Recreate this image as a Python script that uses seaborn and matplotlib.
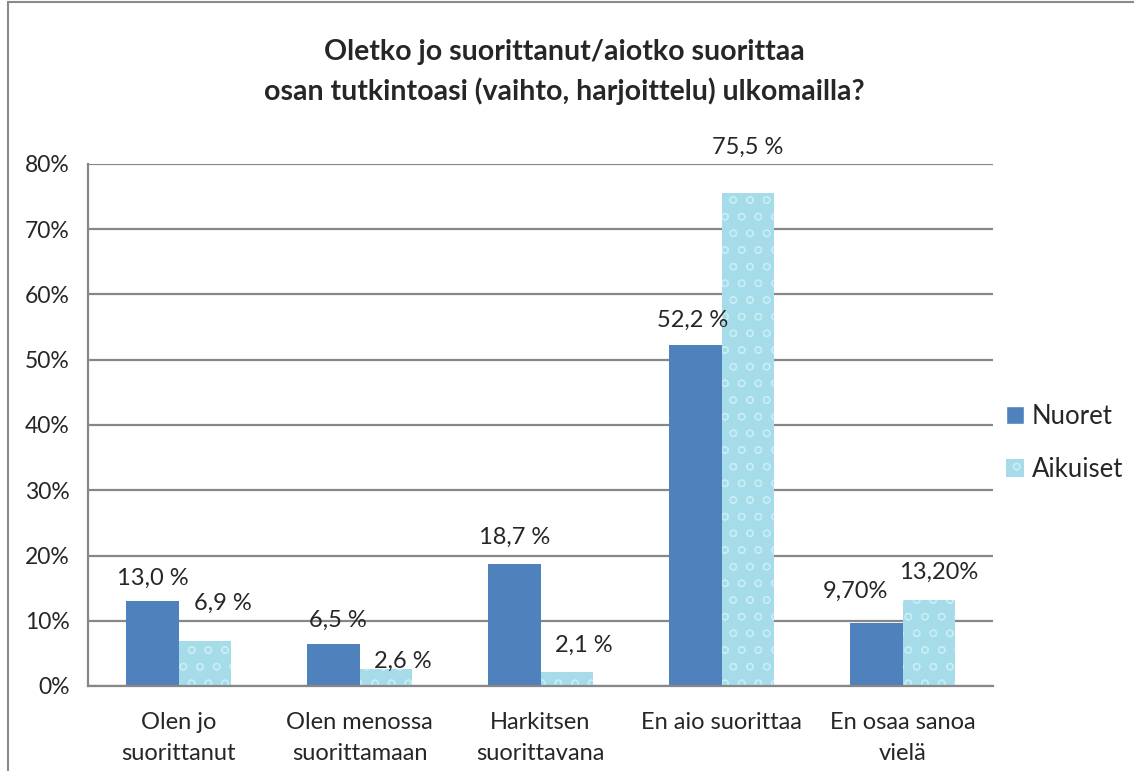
import matplotlib
matplotlib.use("Agg")
import matplotlib.pyplot as plt
import matplotlib.lines as mlines
import matplotlib.patches as mpatches
import numpy as np
import pandas as pd
import seaborn as sns

categories = ["Olen jo\nsuorittanut", "Olen menossa\nsuorittamaan", "Harkitsen\nsuorittavana",
              "En aio suorittaa", "En osaa sanoa\nvielä"]
nuoret = [13.0, 6.5, 18.7, 52.2, 9.7]
aikuiset = [6.9, 2.6, 2.1, 75.5, 13.2]
labels_nuoret = ["13,0 %", "6,5 %", "18,7 %", "52,2 %", "9,70%"]
labels_aikuiset = ["6,9 %", "2,6 %", "2,1 %", "75,5 %", "13,20%"]
series = ["Nuoret", "Aikuiset"]
yticks = [0, 10, 20, 30, 40, 50, 60, 70, 80]

# label nudges in pixels (manual placement, like in the original)
off_nuoret = [(0, 23), (4, 23), (0, 27), (-3, 25), (-21, 31)]
off_aikuiset = [(18, 38), (17, 8), (17, 27), (0, 46), (10, 28)]

df = pd.DataFrame({
    "kategoria": categories * 2,
    "ryhma": [series[0]] * len(categories) + [series[1]] * len(categories),
    "osuus": nuoret + aikuiset,
})

sns.set_style("white")
plt.rcParams["font.family"] = ["Lato", "DejaVu Sans"]
plt.rcParams["hatch.linewidth"] = 0.9

fig = plt.figure(figsize=(11.34, 7.71), dpi=100)
ax = fig.add_axes([88 / 1134, 1 - 686 / 771, (993 - 88) / 1134, (686 - 164) / 771])

sns.barplot(data=df, x="kategoria", y="osuus", hue="ryhma", order=categories,
            hue_order=series, palette=["#4F81BD", "#A6DCE9"], width=0.575,
            saturation=1, ax=ax, legend=False)

for bar in ax.containers[1]:
    bar.set_hatch("o")
    bar.set_edgecolor("#C6ECF4")
    bar.set_linewidth(0)
for bar in ax.containers[0]:
    bar.set_linewidth(0)

grid_c = "#878787"
ax.set_ylim(0, 80)
ax.set_xlim(-0.5, len(categories) - 0.5)
ax.set_yticks(yticks)
ax.set_yticklabels([f"{t}%" for t in yticks], fontsize=16.5)
ax.yaxis.grid(True, color=grid_c, linewidth=1.6)
ax.set_axisbelow(True)
ax.set_xticks(np.arange(len(categories)))
ax.set_xticklabels(categories, fontsize=17, linespacing=1.55)
ax.set_xticks(np.arange(len(categories) + 1) - 0.5, minor=True)
ax.tick_params(axis="x", which="major", length=0, pad=19)
ax.tick_params(axis="x", which="minor", length=8, width=1.6, color=grid_c, direction="out")
ax.tick_params(axis="y", length=8, width=1.6, color=grid_c, direction="out", pad=5)
ax.set_xlabel("")
ax.set_ylabel("")
for s in ["top", "right"]:
    ax.spines[s].set_visible(False)
for s in ["left", "bottom"]:
    ax.spines[s].set_color(grid_c)
    ax.spines[s].set_linewidth(1.6)

for cont, labs, offs in [(ax.containers[0], labels_nuoret, off_nuoret),
                         (ax.containers[1], labels_aikuiset, off_aikuiset)]:
    for bar, lab, (dx, dy) in zip(cont, labs, offs):
        ax.annotate(lab, (bar.get_x() + bar.get_width() / 2, bar.get_height()),
                    xytext=(dx, dy), textcoords="offset pixels",
                    ha="center", va="center", fontsize=17)

fig.text(564 / 1134, 1 - 72 / 771,
         "Oletko jo suorittanut/aiotko suorittaa\nosan tutkintoasi (vaihto, harjoittelu) ulkomailla?",
         ha="center", va="center", fontsize=20.5, fontweight="bold", linespacing=1.55)

handles = [mpatches.Patch(facecolor="#4F81BD", label=series[0]),
           mpatches.Patch(facecolor="#A6DCE9", edgecolor="#C6ECF4", hatch="o",
                          linewidth=0, label=series[1])]
fig.legend(handles=handles, loc="center left", bbox_to_anchor=(996 / 1134, 1 - 443 / 771),
           frameon=False, fontsize=18.5, handlelength=0.7, handleheight=0.7,
           handletextpad=0.3, labelspacing=1.1, borderaxespad=0)

# chart outer frame
fig.add_artist(mlines.Line2D([8 / 1134, 8 / 1134], [0, 1 - 2 / 771], color="#8a8a8a",
                             linewidth=1.5, transform=fig.transFigure))
fig.add_artist(mlines.Line2D([8 / 1134, 1], [1 - 2 / 771, 1 - 2 / 771], color="#8a8a8a",
                             linewidth=1.5, transform=fig.transFigure))

fig.savefig("out.png", dpi=100)
